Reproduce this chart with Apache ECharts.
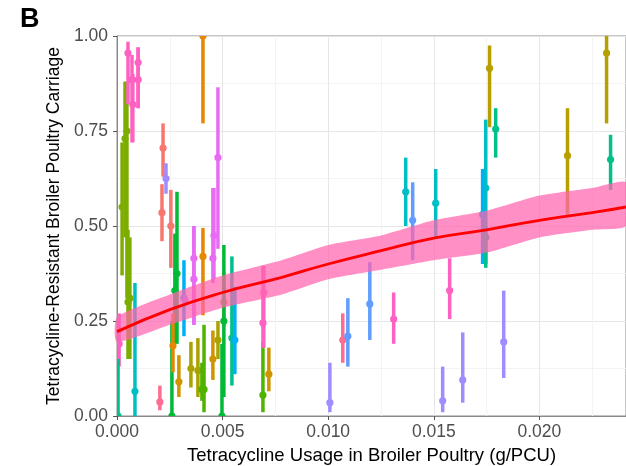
<!DOCTYPE html>
<html>
<head>
<meta charset="UTF-8">
<title>Tetracycline usage vs carriage</title>
<script src="https://cdn.jsdelivr.net/npm/echarts@6/dist/echarts.min.js"></script>
<style>
  html, body { margin: 0; padding: 0; background: #fff; }
</style>
</head>
<body>
<div id="main" style="width: 626px;height:466px;"></div>
<script>
// point estimates with 95% intervals
var usage    = [0.0001, 0.00005, 0.00024, 0.00038, 0.00047, 0.00061, 0.00052, 0.00052, 0.00071, 0.00075,
                0.001, 0.001, 0.00085, 0.00218, 0.00213, 0.00255, 0.00203, 0.00232, 0.00284, 0.0026,
                0.00274, 0.00265, 0.00293, 0.00317, 0.00322, 0.00364, 0.00364, 0.00407, 0.00407, 0.00478,
                0.00454, 0.00459, 0.0035, 0.00383, 0.00478, 0.00454, 0.00719, 0.00506, 0.00412, 0.00402,
                0.00691, 0.00506, 0.00497, 0.00544, 0.00558, 0.00695, 0.00691, 0.01008, 0.01069, 0.01093,
                0.01197, 0.0131, 0.01367, 0.014, 0.01509, 0.01542, 0.01575, 0.01637, 0.01746, 0.01731,
                0.01746, 0.01793, 0.01764, 0.01831, 0.02133, 0.02318, 0.02337];
var carriage = [0.19, 0.0, 0.55, 0.73, 0.75, 0.31, 0.30, 0.955, 0.885, 0.82,
                0.93, 0.885, 0.065, 0.705, 0.535, 0.50, 0.037, 0.625, 0.375, 0.0,
                0.33, 0.185, 0.09, 0.31, 0.305, 0.415, 0.36, 0.42, 1.0, 0.68,
                0.415, 0.475, 0.125, 0.12, 0.20, 0.15, 0.11, 0.30, 0.07, 0.07,
                0.055, 0.25, 0.0, 0.205, 0.20, 0.325, 0.245, 0.035, 0.20, 0.21,
                0.295, 0.255, 0.59, 0.515, 0.56, 0.04, 0.33, 0.095, 0.60, 0.53,
                0.47, 0.755, 0.915, 0.195, 0.685, 0.955, 0.675];
var lower    = [0.13, 0.0, 0.37, 0.47, 0.31, 0.15, 0.15, 0.82, 0.72, 0.72,
                0.81, 0.81, 0.0, 0.63, 0.46, 0.39, 0.015, 0.585, 0.19, 0.0,
                0.19, 0.115, 0.05, 0.21, 0.29, 0.24, 0.24, 0.265, 0.77, 0.44,
                0.35, 0.36, 0.075, 0.05, 0.15, 0.095, 0.065, 0.235, 0.01, 0.04,
                0.01, 0.05, 0.0, 0.08, 0.11, 0.18, 0.18, 0.01, 0.14, 0.13,
                0.20, 0.19, 0.50, 0.41, 0.47, 0.01, 0.255, 0.035, 0.40, 0.40,
                0.39, 0.68, 0.76, 0.10, 0.53, 0.77, 0.595];
var upper    = [0.27, 0.15, 0.72, 0.88, 0.88, 0.47, 0.49, 0.985, 0.95, 0.90,
                0.97, 0.97, 0.35, 0.77, 0.61, 0.595, 0.08, 0.665, 0.59, 0.25,
                0.48, 0.27, 0.16, 0.41, 0.32, 0.50, 0.50, 0.495, 1.0, 0.865,
                0.60, 0.60, 0.195, 0.205, 0.25, 0.225, 0.18, 0.38, 0.24, 0.14,
                0.195, 0.45, 0.19, 0.42, 0.34, 0.395, 0.395, 0.14, 0.27, 0.31,
                0.405, 0.325, 0.68, 0.615, 0.65, 0.13, 0.415, 0.22, 0.78, 0.65,
                0.50, 0.81, 0.975, 0.33, 0.81, 1.0, 0.74];
var country  = ['pink', 'teal', 'olive', 'olive', 'olive', 'olive', 'olive', 'pink', 'pink', 'pink',
                'pink', 'pink', 'cyan', 'salmon', 'salmon', 'salmon', 'rose', 'lavender', 'green', 'green',
                'green', 'orange', 'amber', 'sky', 'lavender', 'magenta', 'magenta', 'orange', 'orange', 'magenta',
                'magenta', 'magenta', 'mustard', 'mustard', 'mustard', 'amber', 'amber', 'orange', 'lime', 'lime',
                'lime', 'green', 'green', 'teal', 'sky', 'pink', 'pink', 'lavender', 'rose', 'blue',
                'blue', 'pink', 'cyan', 'blue', 'cyan', 'lavender', 'pink', 'lavender', 'cyan', 'sky',
                'teal', 'teal', 'gold', 'lavender', 'gold', 'gold', 'teal'];

// fitted curve and its confidence ribbon
var fitX  = [0, 0.0025, 0.005, 0.0078, 0.010, 0.0125, 0.015, 0.0175, 0.020, 0.0225, 0.0241];
var fitY  = [0.222, 0.28, 0.325, 0.365, 0.40, 0.435, 0.468, 0.49, 0.515, 0.535, 0.55];
var fitLo = [0.195, 0.24, 0.285, 0.32, 0.36, 0.385, 0.41, 0.43, 0.47, 0.49, 0.50];
var fitHi = [0.26, 0.32, 0.37, 0.41, 0.45, 0.475, 0.515, 0.54, 0.58, 0.60, 0.615];

var palette = {
  salmon: '#F8766D', orange: '#E58700', amber: '#D09400', mustard: '#A9A300', gold: '#B79F00',
  olive: '#7CAE00', lime: '#4FB300', green: '#00BA38', teal: '#00C08B', cyan: '#00BFC4',
  sky: '#00B0F6', blue: '#619CFF', lavender: '#A08CFF', magenta: '#E76BF3', pink: '#FF61C3',
  rose: '#FF6C91'
};

var bars = [];
for (var i = 0; i < usage.length; i++) {
  bars.push([usage[i], carriage[i], lower[i], upper[i], country[i]]);
}
var fitLine = [];
for (var j = 0; j < fitX.length; j++) fitLine.push([fitX[j], fitY[j]]);

var myChart = echarts.init(document.getElementById('main'));
myChart.setOption({
  animation: false,
  title: {
    text: 'B', left: 15, top: 1,
    textStyle: { fontFamily: 'Liberation Sans', fontSize: 27, fontWeight: 'bold', color: '#000' }
  },
  grid: {
    left: 117, top: 36, right: 0, bottom: 50,
    outerBoundsMode: 'none',
    show: true, borderColor: '#8a8a8a', borderWidth: 1
  },
  xAxis: {
    type: 'value', min: 0, max: 0.0241, interval: 0.005,
    name: 'Tetracycline Usage in Broiler Poultry (g/PCU)',
    nameLocation: 'middle', nameGap: 30,
    nameTextStyle: { fontFamily: 'Liberation Sans', fontSize: 18.5, color: '#000' },
    axisLine: { show: true, lineStyle: { color: '#8a8a8a' } },
    axisTick: { show: true, length: 4, lineStyle: { color: '#555' } },
    axisLabel: {
      fontFamily: 'Liberation Sans', fontSize: 17.5, color: '#4d4d4d', margin: 7, showMaxLabel: false,
      formatter: function (v) { return v.toFixed(3); }
    },
    splitLine: { show: true, lineStyle: { color: '#e6e6e6' } },
    minorTick: { show: false, splitNumber: 2 },
    minorSplitLine: { show: true, lineStyle: { color: '#f3f3f3' } }
  },
  yAxis: {
    type: 'value', min: 0, max: 1, interval: 0.25,
    name: 'Tetracycline-Resistant Broiler Poultry Carriage',
    nameLocation: 'middle', nameGap: 52,
    nameTextStyle: { fontFamily: 'Liberation Sans', fontSize: 17.5, color: '#000' },
    axisLine: { show: true, lineStyle: { color: '#8a8a8a' } },
    axisTick: { show: true, length: 4, lineStyle: { color: '#555' } },
    axisLabel: {
      fontFamily: 'Liberation Sans', fontSize: 17.5, color: '#4d4d4d', margin: 9,
      formatter: function (v) { return v.toFixed(2); }
    },
    splitLine: { show: true, lineStyle: { color: '#e6e6e6' } },
    minorTick: { show: false, splitNumber: 2 },
    minorSplitLine: { show: true, lineStyle: { color: '#f3f3f3' } }
  },
  series: [
    {
      type: 'custom',
      name: 'intervals',
      clip: true,
      data: bars,
      renderItem: function (params, api) {
        var x = api.value(0);
        var c = palette[bars[params.dataIndex][4]];
        var pt = api.coord([x, api.value(1)]);
        var lo = api.coord([x, api.value(2)]);
        var hi = api.coord([x, api.value(3)]);
        return {
          type: 'group',
          children: [
            { type: 'line', shape: { x1: lo[0], y1: lo[1], x2: hi[0], y2: hi[1] },
              style: { stroke: c, lineWidth: 3.5 } },
            { type: 'circle', shape: { cx: pt[0], cy: pt[1], r: 3.6 }, style: { fill: c } }
          ]
        };
      },
      z: 2
    },
    {
      type: 'custom',
      name: 'ribbon',
      data: [[0, 0]],
      renderItem: function (params, api) {
        var pts = [];
        for (var k = 0; k < fitX.length; k++) pts.push(api.coord([fitX[k], fitHi[k]]));
        for (var m = fitX.length - 1; m >= 0; m--) pts.push(api.coord([fitX[m], fitLo[m]]));
        return {
          type: 'polygon', shape: { points: pts, smooth: 0.2 },
          style: { fill: 'rgba(255,100,175,0.72)' }
        };
      },
      z: 3
    },
    {
      type: 'line',
      name: 'fit',
      data: fitLine,
      smooth: true,
      showSymbol: false,
      lineStyle: { color: '#ff0000', width: 2.8 },
      z: 4
    }
  ]
});
</script>
</body>
</html>
